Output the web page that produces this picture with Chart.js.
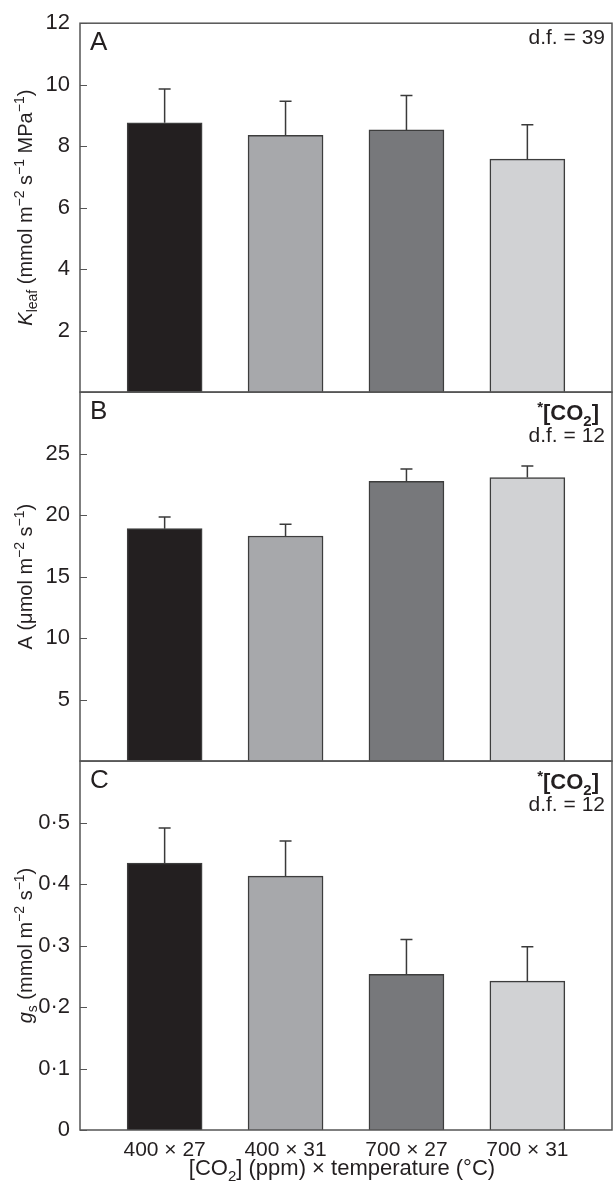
<!DOCTYPE html>
<html>
<head>
<meta charset="utf-8">
<script src="https://cdn.jsdelivr.net/npm/chart.js@4"></script>
<style>
  body { margin: 0; background: #fff; }
  #wrap { position: relative; width: 614px; height: 1198px; }
</style>
</head>
<body>
<div id="wrap"><canvas id="leafChart"></canvas></div>
<script>
// treatment groups ([CO2] x temperature)
const categories = ['400 × 27', '400 × 31', '700 × 27', '700 × 31'];
const catPos = [1, 2, 3, 4];

// panel A: Kleaf
const kleafMean = [8.76, 8.35, 8.53, 7.58];
const kleafErr = [1.10, 1.11, 1.12, 1.12];
// panel B: A (net assimilation)
const photoMean = [18.9, 18.3, 22.75, 23.05];
const photoErr = [0.95, 0.95, 1.0, 0.95];
// panel C: gs
const gsMean = [0.434, 0.413, 0.253, 0.242];
const gsErr = [0.057, 0.057, 0.057, 0.056];

// y tick labels of each panel
const kleafTicks = [2, 4, 6, 8, 10, 12];
const photoTicks = [5, 10, 15, 20, 25];
const gsTicks = [0, 0.1, 0.2, 0.3, 0.4, 0.5];

const barColors = ['#231f20', '#a7a8ab', '#77787b', '#d1d2d4'];
const textColor = '#231f20';
const lineColor = '#555555';
const FONT = '"Liberation Sans", Arial, Helvetica, sans-serif';

const errById = { yA: kleafErr, yB: photoErr, yC: gsErr };

function points(vals) {
    return vals.map((v, i) => ({ x: catPos[i], y: v }));
}

// draws a list of text runs (normal / italic / bold / sup / sub) in a row
function drawRuns(ctx, runs, x, y, align, size) {
    let fonts = runs.map(r => {
        let s = r.s || 'n';
        let small = (s.indexOf('sup') >= 0 || s.indexOf('sub') >= 0);
        let sz = small ? Math.round(size * 0.7) : size;
        let pre = '';
        if (s.indexOf('i') === 0) pre = 'italic ';
        if (s.indexOf('b') === 0) pre = 'bold ';
        return pre + sz + 'px ' + FONT;
    });
    let total = 0;
    let widths = runs.map((r, i) => { ctx.font = fonts[i]; let w = ctx.measureText(r.t).width; total += w; return w; });
    let cx = x;
    if (align === 'center') cx = x - total / 2;
    if (align === 'right') cx = x - total;
    ctx.textAlign = 'left';
    ctx.textBaseline = 'alphabetic';
    runs.forEach((r, i) => {
        let s = r.s || 'n';
        let dy = 0;
        if (s.indexOf('sup') >= 0) dy = -size * 0.38;
        if (s.indexOf('sub') >= 0) dy = size * 0.25;
        ctx.font = fonts[i];
        ctx.fillText(r.t, cx, y + dy);
        cx += widths[i];
    });
}

const yTitles = {
    yA: [{ t: 'K', s: 'i' }, { t: 'leaf', s: 'sub' }, { t: ' (mmol m' }, { t: '−2', s: 'sup' }, { t: ' s' }, { t: '−1', s: 'sup' }, { t: ' MPa' }, { t: '−1', s: 'sup' }, { t: ')' }],
    yB: [{ t: 'A (μmol m' }, { t: '−2', s: 'sup' }, { t: ' s' }, { t: '−1', s: 'sup' }, { t: ')' }],
    yC: [{ t: 'g', s: 'i' }, { t: 's', s: 'sub' }, { t: ' (mmol m' }, { t: '−2', s: 'sup' }, { t: ' s' }, { t: '−1', s: 'sup' }, { t: ')' }]
};
const panelLetters = { yA: 'A', yB: 'B', yC: 'C' };
const dfText = { yA: 'd.f. = 39', yB: 'd.f. = 12', yC: 'd.f. = 12' };
const sigCO2 = { yA: false, yB: true, yC: true };

const panelPlugin = {
    id: 'panelPlugin',
    afterDatasetsDraw(chart) {
        let ctx = chart.ctx;
        ctx.save();
        ctx.strokeStyle = '#3a3a3a';
        ctx.lineWidth = 1.5;
        chart.data.datasets.forEach((ds, di) => {
            let meta = chart.getDatasetMeta(di);
            let ys = chart.scales[ds.yAxisID];
            let errs = errById[ds.yAxisID];
            meta.data.forEach((el, i) => {
                let top = ys.getPixelForValue(ds.data[i].y + errs[i]);
                ctx.beginPath();
                ctx.moveTo(el.x, el.y);
                ctx.lineTo(el.x, top);
                ctx.moveTo(el.x - 6, top);
                ctx.lineTo(el.x + 6, top);
                ctx.stroke();
            });
        });
        ctx.restore();
    },
    afterDraw(chart) {
        let ctx = chart.ctx;
        let ca = chart.chartArea;
        ctx.save();
        ['yA', 'yB', 'yC'].forEach(id => {
            let s = chart.scales[id];
            // frame
            ctx.strokeStyle = lineColor;
            ctx.lineWidth = 1.5;
            ctx.strokeRect(ca.left, s.top, ca.right - ca.left, s.bottom - s.top);
            // inward ticks
            ctx.lineWidth = 1;
            s.ticks.forEach(t => {
                let p = Math.round(s.getPixelForValue(t.value)) + 0.5;
                ctx.beginPath();
                ctx.moveTo(ca.left, p);
                ctx.lineTo(ca.left + 7, p);
                ctx.stroke();
            });
            ctx.fillStyle = textColor;
            // panel letter
            ctx.font = '26px ' + FONT;
            ctx.textAlign = 'left';
            ctx.textBaseline = 'alphabetic';
            ctx.fillText(panelLetters[id], ca.left + 10, s.top + 27);
            // statistics
            if (sigCO2[id]) {
                drawRuns(ctx, [{ t: '*', s: 'bsup' }, { t: '[CO', s: 'b' }, { t: '2', s: 'bsub' }, { t: ']', s: 'b' }], ca.right - 13, s.top + 28, 'right', 22);
                drawRuns(ctx, [{ t: dfText[id] }], ca.right - 7, s.top + 50, 'right', 21);
            } else {
                drawRuns(ctx, [{ t: dfText[id] }], ca.right - 7, s.top + 21, 'right', 21);
            }
            // y title (rotated)
            ctx.save();
            ctx.translate(32, (s.top + s.bottom) / 2);
            ctx.rotate(-Math.PI / 2);
            drawRuns(ctx, yTitles[id], 0, 0, 'center', 20);
            ctx.restore();
        });
        // x title
        ctx.fillStyle = textColor;
        drawRuns(ctx, [{ t: '[CO' }, { t: '2', s: 'sub' }, { t: '] (ppm) × temperature (°C)' }], (ca.left + ca.right) / 2 - 4, 1175, 'center', 22);
        ctx.restore();
    }
};

function yScale(ticksArr, max, w, fmt) {
    return {
        type: 'linear',
        position: 'left',
        stack: 'panels',
        stackWeight: 1,
        weight: w,
        min: 0,
        max: max,
        grid: { display: false, drawTicks: false },
        border: { display: false },
        afterBuildTicks: s => { s.ticks = ticksArr.map(v => ({ value: v })); },
        afterFit: s => { s.width = 80; },
        ticks: {
            padding: 10,
            color: textColor,
            font: { family: FONT, size: 22 },
            callback: fmt
        }
    };
}

const ctx = document.getElementById('leafChart').getContext('2d');
const dsCommon = { barThickness: 75, grouped: false, backgroundColor: barColors, borderColor: '#3d3d3d', borderWidth: 1.5 };

new Chart(ctx, {
    type: 'bar',
    data: {
        datasets: [
            Object.assign({ label: 'Kleaf', yAxisID: 'yA', data: points(kleafMean) }, dsCommon),
            Object.assign({ label: 'A', yAxisID: 'yB', data: points(photoMean) }, dsCommon),
            Object.assign({ label: 'gs', yAxisID: 'yC', data: points(gsMean) }, dsCommon)
        ]
    },
    options: {
        responsive: true,
        maintainAspectRatio: false,
        animation: false,
        layout: { padding: { top: 12, right: 2, left: 0, bottom: 0 } },
        plugins: { legend: { display: false }, tooltip: { enabled: false } },
        scales: {
            x: {
                type: 'linear',
                min: 0.3,
                max: 4.7,
                offset: false,
                grid: { display: false, drawTicks: false, offset: false },
                border: { display: false },
                afterBuildTicks: s => { s.ticks = catPos.map(v => ({ value: v })); },
                afterFit: s => { s.height = 68; },
                ticks: {
                    padding: 8,
                    maxRotation: 0,
                    autoSkip: false,
                    color: textColor,
                    font: { family: FONT, size: 21 },
                    callback: v => categories[catPos.indexOf(v)]
                }
            },
            yA: yScale(kleafTicks, 12, 3, v => String(v)),
            yB: yScale(photoTicks, 30, 2, v => String(v)),
            yC: yScale(gsTicks, 0.6, 1, v => v === 0 ? '0' : v.toFixed(1).replace('.', '·'))
        }
    },
    plugins: [panelPlugin]
});
</script>
</body>
</html>
